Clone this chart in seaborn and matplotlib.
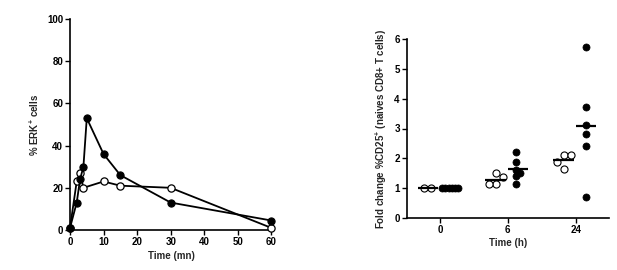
import numpy as np
import pandas as pd
import matplotlib
matplotlib.use("Agg")
import matplotlib.pyplot as plt
import seaborn as sns

sns.set_theme(style="ticks")
plt.rcParams['font.family'] = ['Liberation Sans', 'DejaVu Sans']
plt.rcParams['mathtext.fontset'] = 'custom'
plt.rcParams['mathtext.rm'] = 'Liberation Sans:bold'
plt.rcParams['mathtext.it'] = 'Liberation Sans:bold'
plt.rcParams['mathtext.bf'] = 'Liberation Sans:bold'

# ---- Left panel data: % ERK+ cells over time ----
time_filled = [0, 2, 3, 4, 5, 10, 15, 30, 60]
erk_filled = [1, 13, 24, 30, 53, 36, 26, 13, 4.5]
time_open = [0, 2, 3, 4, 10, 15, 30, 60]
erk_open = [1, 23, 27, 20, 23, 21, 20, 1]

# ---- Right panel data: fold change %CD25+ ----
time_labels = ["0", "6", "24"]
open_0 = [1.0, 1.0]
filled_0 = [1.0, 1.0, 1.0, 1.0, 1.0, 1.0]
open_6 = [1.52, 1.36, 1.14, 1.14]
filled_6 = [2.22, 1.89, 1.61, 1.52, 1.42, 1.14]
open_24 = [2.11, 2.11, 1.89, 1.63]
filled_24 = [5.72, 3.71, 3.12, 2.82, 2.42, 0.71]

W, H = 6.17, 2.70
fig = plt.figure(figsize=(W, H), dpi=100)
fs = 7

# ---------------- Left panel ----------------
ax1 = fig.add_axes([70/617, (270-230)/270, (273-70)/617, (230-19)/270])
df_f = pd.DataFrame({"t": time_filled, "v": erk_filled})
df_o = pd.DataFrame({"t": time_open, "v": erk_open})
sns.lineplot(data=df_o, x="t", y="v", ax=ax1, color="black", lw=1.3,
             marker="o", markersize=5.2, markerfacecolor="white",
             markeredgecolor="black", markeredgewidth=0.9, clip_on=False, zorder=3)
sns.lineplot(data=df_f, x="t", y="v", ax=ax1, color="black", lw=1.3,
             marker="o", markersize=5.2, markerfacecolor="black",
             markeredgecolor="black", clip_on=False, zorder=4)
ax1.set_xlim(0, 60.5)
ax1.set_ylim(0, 100)
ax1.set_xticks([0, 10, 20, 30, 40, 50, 60])
ax1.set_yticks([0, 20, 40, 60, 80, 100])
ax1.set_xlabel("Time (mn)", fontsize=fs, labelpad=3, fontweight="bold")
ax1.set_ylabel("% ERK$^{+}$ cells", fontsize=fs, labelpad=4, fontweight="bold")

# ---------------- Right panel ----------------
ax2 = fig.add_axes([406.7/617, (270-218)/270, (609-406.7)/617, (218-39)/270])

groups = [(open_0, filled_0), (open_6, filled_6), (open_24, filled_24)]
px_x = 68.0          # pixels per category unit
px_y = (218-39)/6.0  # pixels per y unit
offsets = {"open": -0.18, "filled": 0.15}
spacing_px = {"open": 7.0, "filled": 3.2}

def swarm(vals, center, dpx):
    """deterministic mini-beeswarm (overlap allowed)."""
    placed = []
    xs = [0.0] * len(vals)
    order = np.argsort(vals)[::-1]
    for i in order:
        y = vals[i] * px_y
        k = 0
        while True:
            cand = (0 if k == 0 else ((k + 1) // 2) * (1 if k % 2 else -1)) * dpx
            ok = all(np.hypot(cand - px, y - py) >= dpx for px, py in placed)
            if ok:
                break
            k += 1
        placed.append((cand, y))
        xs[i] = cand
    xs = np.array(xs)
    xs = xs - (xs.max() + xs.min()) / 2.0
    return center + xs / px_x

rows = []
for ci, (ov, fv) in enumerate(groups):
    for kind, vals in (("open", ov), ("filled", fv)):
        xs = swarm(vals, ci + offsets[kind], spacing_px[kind])
        for x, v in zip(xs, vals):
            rows.append({"x": x, "v": v, "kind": kind})
        m = float(np.mean(vals))
        c = ci + offsets[kind]
        ax2.hlines(m, c - 0.15, c + 0.15, color="black", lw=1.6, zorder=5)
df2 = pd.DataFrame(rows)
sns.scatterplot(data=df2[df2.kind == "open"], x="x", y="v", ax=ax2, s=26,
                facecolor="white", edgecolor="black", linewidth=0.8, zorder=3)
sns.scatterplot(data=df2[df2.kind == "filled"], x="x", y="v", ax=ax2, s=26,
                color="black", edgecolor="black", linewidth=0.5, zorder=4)
ax2.set_xlim(-0.49, 2.49)
ax2.set_ylim(0, 6)
ax2.set_xticks([0, 1, 2])
ax2.set_xticklabels(time_labels)
ax2.set_yticks([0, 1, 2, 3, 4, 5, 6])
ax2.set_xlabel("Time (h)", fontsize=fs, labelpad=2, fontweight="bold")
ax2.set_ylabel("Fold change %CD25$^{+}$ (naives CD8+ T cells)", fontsize=fs,
               labelpad=4, fontweight="bold")

for ax in (ax1, ax2):
    sns.despine(ax=ax)
    for s in ("left", "bottom"):
        ax.spines[s].set_linewidth(1.2)
        ax.spines[s].set_color("black")
    ax.tick_params(axis="both", labelsize=fs, length=3.5, width=1.0, pad=1.5,
                   colors="black", direction="out")
    for lab in ax.get_xticklabels() + ax.get_yticklabels():
        lab.set_fontweight("bold")

fig.savefig("out.png", dpi=100)
